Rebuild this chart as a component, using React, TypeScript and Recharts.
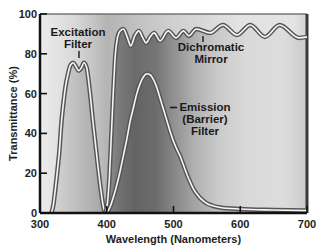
import React from 'react';
import { ComposedChart, Area, Line, XAxis, YAxis, CartesianGrid, ReferenceLine } from 'recharts';

// axis + grid values
const xTicks = [300, 400, 500, 600, 700];
const yTicks = [0, 20, 40, 60, 80, 100];
const gridX = [320, 340, 360, 380, 400, 420, 440, 460, 480, 500, 520, 540, 560, 580, 600, 620, 640, 660, 680];
const gridY = [6.67, 13.33, 20, 26.67, 33.33, 40, 46.67, 53.33, 60, 66.67, 73.33, 80, 86.67, 93.33];

// excitation filter
const excitationNm = [317, 320, 323, 326, 329, 332, 335, 338, 342, 346, 350, 354, 358, 362, 366, 370, 373, 376, 379, 383, 387, 391, 395, 398];
const excitationPct = [0, 4, 12, 21, 31, 45, 55, 63, 70, 74.5, 75.5, 73.5, 71.5, 73, 75.5, 73, 66, 57, 47, 35, 23, 12, 3, 0];

// dichromatic mirror
const mirrorNm = [398, 401, 404, 407, 410, 413, 416, 420, 425, 431, 436, 442, 448, 454, 459, 465, 471, 480, 492, 504, 515, 523, 534, 555, 574, 595, 615, 637, 659, 688, 700];
const mirrorPct = [0, 5, 18, 40, 62, 80, 88, 91.5, 92.5, 88, 84, 89, 91.5, 88, 85.5, 88.5, 90.5, 86.5, 91.5, 88, 91.5, 89, 92.5, 90.5, 94.5, 89.5, 94.5, 88.5, 94.5, 88, 88.5];

// emission (barrier) filter
const emissionNm = [400, 405, 410, 415, 420, 425, 430, 435, 440, 445, 450, 455, 460, 465, 470, 475, 480, 485, 490, 495, 500, 505, 510, 515, 520, 525, 530, 535, 540, 545, 550, 560, 570, 600, 650, 700];
const emissionPct = [0, 3, 8, 14, 21, 29, 37, 46, 53, 60, 65, 68.5, 70, 69.5, 67, 63, 57.5, 52, 46.5, 41, 36, 32, 28.5, 24, 19.5, 15.5, 12, 9.5, 7.5, 6, 4.8, 3.5, 2.8, 2, 1.5, 1.2];

const toRows = (nm: number[], pct: number[]) => nm.map((v, i) => ({ nm: v, pct: pct[i] }));
const excitation = toRows(excitationNm, excitationPct);
const mirror = toRows(mirrorNm, mirrorPct);
const emission = toRows(emissionNm, emissionPct);

const font = '"Liberation Sans", Arial, sans-serif';
const tickFont = { fontFamily: font, fontWeight: 700, fontSize: 11, fill: '#1e1e1e' };
const noteFont = { fontFamily: font, fontWeight: 700, fontSize: 11.5, fill: '#1a1a1a' };

const XTick = ({ x, y, payload }: any) => (
    <g>
        <line x1={x} x2={x} y1={y} y2={y - 7} stroke="#111" strokeWidth={1.6} />
        <text x={x} y={y + 15} textAnchor="middle" style={tickFont}>{payload.value}</text>
    </g>
);

const YTick = ({ x, y, payload }: any) => (
    <g>
        <line x1={x} x2={x + 7} y1={y} y2={y} stroke="#111" strokeWidth={1.6} />
        <text x={x - 3} y={y + 4} textAnchor="end" style={tickFont}>{payload.value}</text>
    </g>
);

const doubleLine = (data: { nm: number; pct: number }[], key: string) => [
    <Line key={key + '-o'} data={data} dataKey="pct" type="monotone" stroke="#555" strokeWidth={4.5} dot={false} activeDot={false} isAnimationActive={false} />,
    <Line key={key + '-i'} data={data} dataKey="pct" type="monotone" stroke="#f6f6f6" strokeWidth={1.6} dot={false} activeDot={false} isAnimationActive={false} />,
];

export default function App() {
    return (
        <div style={{ position: 'absolute', left: 0, top: 0, width: 321, height: 247, background: '#fff' }}>
            <svg width={0} height={0} style={{ position: 'absolute' }}>
                <defs>
                    <linearGradient id="plotBg" x1="0" y1="0" x2="1" y2="0">
                        <stop offset="0" stopColor="#ececec" />
                        <stop offset="0.125" stopColor="#dadada" />
                        <stop offset="0.2" stopColor="#c4c4c4" />
                        <stop offset="0.25" stopColor="#b4b4b4" />
                        <stop offset="0.375" stopColor="#c2c2c2" />
                        <stop offset="0.5" stopColor="#d0d0d0" />
                        <stop offset="0.75" stopColor="#e2e2e2" />
                        <stop offset="0.95" stopColor="#e4e4e4" />
                        <stop offset="1" stopColor="#d2d2d2" />
                    </linearGradient>
                    <linearGradient id="excFill" x1="0" y1="0" x2="1" y2="0">
                        <stop offset="0" stopColor="#d4d4d4" />
                        <stop offset="0.5" stopColor="#bababa" />
                        <stop offset="1" stopColor="#a2a2a2" />
                    </linearGradient>
                    <linearGradient id="mirrorFill" x1="0" y1="0" x2="1" y2="0">
                        <stop offset="0" stopColor="#8e8e8e" />
                        <stop offset="0.07" stopColor="#727272" />
                        <stop offset="0.15" stopColor="#626262" />
                        <stop offset="0.25" stopColor="#6c6c6c" />
                        <stop offset="0.34" stopColor="#8a8a8a" />
                        <stop offset="0.44" stopColor="#acacac" />
                        <stop offset="0.56" stopColor="#c8c8c8" />
                        <stop offset="0.7" stopColor="#d8d8d8" />
                        <stop offset="0.88" stopColor="#dcdcdc" />
                        <stop offset="1" stopColor="#c8c8c8" />
                    </linearGradient>
                </defs>
            </svg>
            <ComposedChart width={321} height={247} margin={{ top: 14, right: 14, bottom: 0, left: 0 }}>
                <XAxis xAxisId="g" type="number" dataKey="nm" domain={[300, 700]} ticks={gridX} hide />
                <YAxis yAxisId="g" type="number" domain={[0, 100]} ticks={gridY} hide />
                <CartesianGrid xAxisId="g" yAxisId="g" fill="url(#plotBg)" fillOpacity={1} stroke="#7a7a7a" strokeOpacity={0.45} strokeWidth={1} />
                <XAxis
                    type="number"
                    dataKey="nm"
                    domain={[300, 700]}
                    ticks={xTicks}
                    height={34}
                    tickSize={0}
                    tickMargin={0}
                    tickLine={false}
                    tick={<XTick />}
                    axisLine={{ stroke: '#111', strokeWidth: 2.5 }}
                    label={{ value: 'Wavelength (Nanometers)', position: 'insideBottom', offset: 4, style: tickFont }}
                />
                <YAxis
                    type="number"
                    domain={[0, 100]}
                    ticks={yTicks}
                    width={40}
                    tickSize={0}
                    tickMargin={0}
                    tickLine={false}
                    tick={<YTick />}
                    axisLine={{ stroke: '#111', strokeWidth: 2.5 }}
                    label={{ value: 'Transmittance (%)', angle: -90, position: 'insideLeft', offset: 13, style: { ...tickFont, textAnchor: 'middle' } }}
                />
                <Area data={mirror} dataKey="pct" type="monotone" stroke="none" fill="url(#mirrorFill)" fillOpacity={0.9} isAnimationActive={false} />
                <Area data={excitation} dataKey="pct" type="monotone" stroke="none" fill="url(#excFill)" fillOpacity={0.9} isAnimationActive={false} />
                <Area data={emission} dataKey="pct" type="monotone" stroke="none" fill="#000" fillOpacity={0.07} isAnimationActive={false} />
                <ReferenceLine y={100} stroke="#555" strokeWidth={1.2} />
                <ReferenceLine x={700} stroke="#3a3a3a" strokeWidth={3} />
                {doubleLine(excitation, 'exc')}
                {doubleLine(mirror, 'mir')}
                {doubleLine(emission, 'emi')}
            </ComposedChart>
            <svg width={321} height={247} style={{ position: 'absolute', left: 0, top: 0, pointerEvents: 'none' }}>
                <text x={78} y={36} textAnchor="middle" style={noteFont}>Excitation</text>
                <text x={78} y={48} textAnchor="middle" style={noteFont}>Filter</text>
                <line x1={79} x2={79} y1={51} y2={58} stroke="#1a1a1a" strokeWidth={1.4} />
                <text x={211} y={51} textAnchor="middle" style={noteFont}>Dichromatic</text>
                <text x={211} y={63} textAnchor="middle" style={noteFont}>Mirror</text>
                <line x1={203} x2={203} y1={36} y2={42} stroke="#1a1a1a" strokeWidth={1.4} />
                <text x={205} y={111} textAnchor="middle" style={noteFont}>Emission</text>
                <text x={205} y={123} textAnchor="middle" style={noteFont}>(Barrier)</text>
                <text x={205} y={135} textAnchor="middle" style={noteFont}>Filter</text>
                <line x1={170} x2={177} y1={107.5} y2={107.5} stroke="#1a1a1a" strokeWidth={1.6} />
            </svg>
        </div>
    );
}
